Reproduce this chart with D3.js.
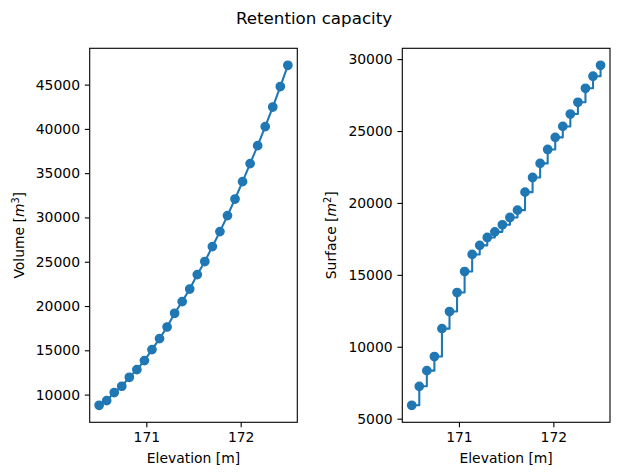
<!DOCTYPE html>
<html>
<head>
<meta charset="utf-8">
<script src="https://cdn.jsdelivr.net/npm/d3@7"></script>
<style>
  body { margin: 0; background: #fff; }
  svg text { font-family: "DejaVu Sans", sans-serif; fill: #000; }
</style>
</head>
<body>
<div id="app"></div>
<script>
const width = 619;
const height = 475;

// elevation steps (m)
const elevation = [170.50, 170.58, 170.66, 170.74, 170.82, 170.90, 170.98, 171.06, 171.14, 171.22,
  171.30, 171.38, 171.46, 171.54, 171.62, 171.70, 171.78, 171.86, 171.94, 172.02,
  172.10, 172.18, 172.26, 172.34, 172.42, 172.50];

const volume = [8790, 9320, 10230, 10940, 11950, 12820, 13840, 15080, 16320, 17630,
  19180, 20500, 21920, 23550, 25020, 26710, 28400, 30210, 32080, 34050,
  36080, 38110, 40260, 42470, 44780, 47180];

const surface = [5930, 7250, 8340, 9320, 11260, 12450, 13770, 15230, 16420, 17050,
  17600, 17990, 18480, 18990, 19500, 20750, 21770, 22750, 23720, 24560,
  25320, 26180, 27000, 27970, 28810, 29570];

const xTicks = [171, 172];
const volTicks = [10000, 15000, 20000, 25000, 30000, 35000, 40000, 45000];
const surfTicks = [5000, 10000, 15000, 20000, 25000, 30000];

const color = '#1f77b4';

const svg = d3.select('#app').append('svg')
  .attr('width', width)
  .attr('height', height);

svg.append('text')
  .attr('x', 314)
  .attr('y', 24)
  .attr('text-anchor', 'middle')
  .style('font-size', '16.7px')
  .text('Retention capacity');

function pad(ext) {
  const r = ext[1] - ext[0];
  return [ext[0] - 0.05 * r, ext[1] + 0.05 * r];
}

function panel(left, right, values, yTicks, labelMain, sup, labelX, stepped) {
  const top = 48.3, bottom = 422.3;
  const x = d3.scaleLinear().domain(pad(d3.extent(elevation))).range([left, right]);
  const y = d3.scaleLinear().domain(pad(d3.extent(values))).range([bottom, top]);
  const g = svg.append('g');
  const pts = elevation.map((e, i) => [e, values[i]]);

  const line = d3.line()
    .x(d => x(d[0]))
    .y(d => y(d[1]))
    .curve(stepped ? d3.curveStepAfter : d3.curveLinear);

  g.append('path')
    .attr('d', line(pts))
    .attr('fill', 'none')
    .attr('stroke', color)
    .attr('stroke-width', 2.08)
    .attr('stroke-linejoin', 'round');

  g.selectAll('circle').data(pts).enter().append('circle')
    .attr('cx', d => x(d[0]))
    .attr('cy', d => y(d[1]))
    .attr('r', 4.17)
    .attr('fill', color)
    .attr('stroke', color)
    .attr('stroke-width', 1.39);

  const xa = g.append('g')
    .attr('transform', `translate(0,${bottom})`)
    .call(d3.axisBottom(x).tickValues(xTicks).tickFormat(d3.format('d')).tickSize(4.86).tickPadding(4.86));
  const ya = g.append('g')
    .attr('transform', `translate(${left},0)`)
    .call(d3.axisLeft(y).tickValues(yTicks).tickFormat(d3.format('d')).tickSize(4.86).tickPadding(4.86));
  [xa, ya].forEach(a => {
    a.select('.domain').remove();
    a.selectAll('line').attr('stroke', '#000').attr('stroke-width', 1.1);
    a.selectAll('text').style('font-size', '13.9px').attr('font-family', null);
  });

  g.append('rect')
    .attr('x', left).attr('y', top)
    .attr('width', right - left).attr('height', bottom - top)
    .attr('fill', 'none').attr('stroke', '#000').attr('stroke-width', 1.1);

  g.append('text')
    .attr('x', (left + right) / 2)
    .attr('y', 463)
    .attr('text-anchor', 'middle')
    .style('font-size', '13.9px')
    .text('Elevation [m]');

  const yl = g.append('text')
    .attr('transform', `translate(${labelX},${(top + bottom) / 2}) rotate(-90)`)
    .attr('text-anchor', 'middle')
    .style('font-size', '13.9px');
  yl.append('tspan').text(labelMain + ' [');
  yl.append('tspan').style('font-style', 'italic').text('m');
  yl.append('tspan').attr('dy', -5).style('font-size', '9.7px').text(sup);
  yl.append('tspan').attr('dy', 5).text(']');
}

panel(89.7, 297.3, volume, volTicks, 'Volume', '3', 24, false);
panel(402.3, 610, surface, surfTicks, 'Surface', '2', 336, true);
</script>
</body>
</html>
